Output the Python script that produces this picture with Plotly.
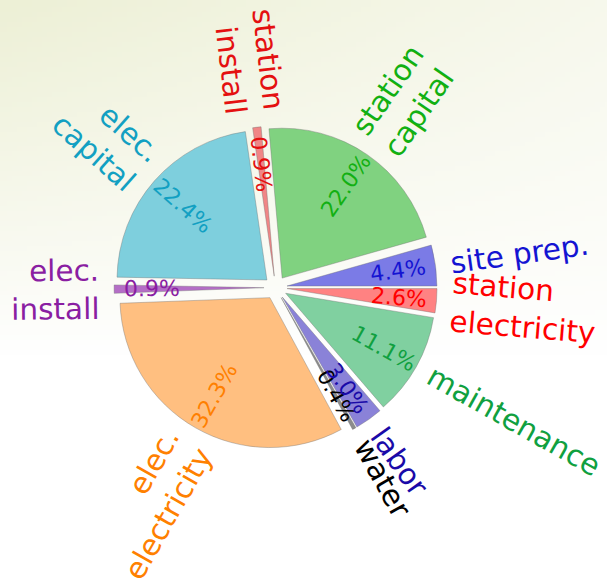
import math, zlib, struct, base64
import numpy as np
import plotly.graph_objects as go

# ---------------- data ----------------
labels = ["site prep.", "station<br>capital", "station<br>install", "elec.<br>capital",
          "elec.<br>install", "elec.<br>electricity", "water", "labor",
          "maintenance", "station<br>electricity"]
values = [4.4, 22.0, 0.9, 22.4, 0.9, 32.3, 0.4, 3.0, 11.1, 2.6]
slice_colors = ["#7b7be6", "#80d280", "#f08686", "#7ecfdd", "#b46ec6", "#ffbf80",
                "#8c8c8c", "#8a82d8", "#80d0a0", "#ff8282"]
text_colors = ["#1414d2", "#12b012", "#e41010", "#12a0c2", "#8a1ea2", "#ff8000",
               "#000000", "#1a0aa8", "#10a040", "#ff0000"]

# ---------------- geometry ----------------
W, H = 607, 586
PULL = 0.077
DOM_X = [0.188, 0.72]
DOM_Y = [0.2336, 0.7848]
PCT_DIST = 0.75
LABEL_DIST = 1.1
LABEL_SIZE = 29.5
PCT_SIZE = 22
FONT = "DejaVu Sans"

cx = W * (DOM_X[0] + DOM_X[1]) / 2
cy = H * (1 - (DOM_Y[0] + DOM_Y[1]) / 2)
R = min(W * (DOM_X[1] - DOM_X[0]), H * (DOM_Y[1] - DOM_Y[0])) / 2 / (1 + PULL)

CW = {'s': .521, 'i': .278, 't': .392, 'e': .615, ' ': .318, 'p': .635, 'r': .411,
      '.': .318, 'a': .613, 'o': .612, 'n': .634, 'c': .550, 'l': .278, 'y': .592,
      'w': .818, 'b': .635, 'm': .974}


def text_width(s, size):
    return max(sum(CW.get(ch, .6) for ch in line) for line in s.split("<br>")) * size


def to_paper(px, py):
    return px / W, 1 - py / H


# ---------------- background ----------------
def png_uri(arr):
    h, w, _ = arr.shape
    raw = b"".join(b"\x00" + arr[y].tobytes() for y in range(h))

    def chunk(t, d):
        c = struct.pack(">I", len(d)) + t + d
        return c + struct.pack(">I", zlib.crc32(t + d) & 0xffffffff)
    png = (b"\x89PNG\r\n\x1a\n" + chunk(b"IHDR", struct.pack(">IIBBBBB", w, h, 8, 2, 0, 0, 0))
           + chunk(b"IDAT", zlib.compress(raw)) + chunk(b"IEND", b""))
    return "data:image/png;base64," + base64.b64encode(png).decode()


gw, gh = 122, 118
u = np.linspace(0, 1, gw)[None, :]
v = np.linspace(0, 1, gh)[:, None]
s = np.clip(1 - v / 0.6, 0, 1) ** 0.9 * np.clip(1 - 0.55 * u, 0, 1)
tint = np.array([237, 240, 214], dtype=float)
img = 255 - s[..., None] * (255 - tint)[None, None, :]
bg_uri = png_uri(np.clip(img, 0, 255).astype(np.uint8))

# ---------------- figure ----------------
total = sum(values)
# plotly's counterclockwise pies end the first slice at `rotation`; shift so it starts at 3 o'clock
rotation = 90 - 360 * values[0] / total

fig = go.Figure(go.Pie(
    values=values, labels=labels, sort=False, direction="counterclockwise",
    rotation=rotation, pull=PULL, textinfo="none", hoverinfo="label+percent",
    marker=dict(colors=slice_colors, line=dict(color="rgba(110,110,110,0.55)", width=0.7)),
    domain=dict(x=DOM_X, y=DOM_Y), showlegend=False,
))

annotations = []
cum = 0.0
for lab, val, tc in zip(labels, values, text_colors):
    theta = 360 * (cum + val / 2) / total
    cum += val
    t = math.radians(theta)
    ux, uy = math.cos(t), -math.sin(t)
    rot = theta if (theta <= 90 or theta >= 270) else theta - 180
    angle = -rot
    if angle < -180:
        angle += 360
    if angle > 180:
        angle -= 360
    # percentage text
    d = PULL * R + PCT_DIST * R
    px, py = to_paper(cx + d * ux, cy + d * uy)
    annotations.append(dict(x=px, y=py, xref="paper", yref="paper", text=f"{val:.1f}%",
                            showarrow=False, textangle=angle, xanchor="center", yanchor="middle",
                            font=dict(family=FONT, size=PCT_SIZE, color=tc)))
    # label
    w = text_width(lab, LABEL_SIZE)
    d = PULL * R + LABEL_DIST * R + w / 2
    px, py = to_paper(cx + d * ux, cy + d * uy)
    annotations.append(dict(x=px, y=py, xref="paper", yref="paper", text=lab,
                            showarrow=False, textangle=angle, xanchor="center", yanchor="middle",
                            align="left" if ux > 0 else "right",
                            font=dict(family=FONT, size=LABEL_SIZE, color=tc)))

fig.update_layout(
    width=W, height=H, autosize=False,
    margin=dict(l=0, r=0, t=0, b=0),
    paper_bgcolor="white", plot_bgcolor="white",
    annotations=annotations,
    images=[dict(source=bg_uri, xref="paper", yref="paper", x=0, y=1, sizex=1, sizey=1,
                 xanchor="left", yanchor="top", sizing="stretch", layer="below")],
)

fig.write_html("out.html", config={"displayModeBar": False},
               post_script="document.body.style.margin='0px';")
